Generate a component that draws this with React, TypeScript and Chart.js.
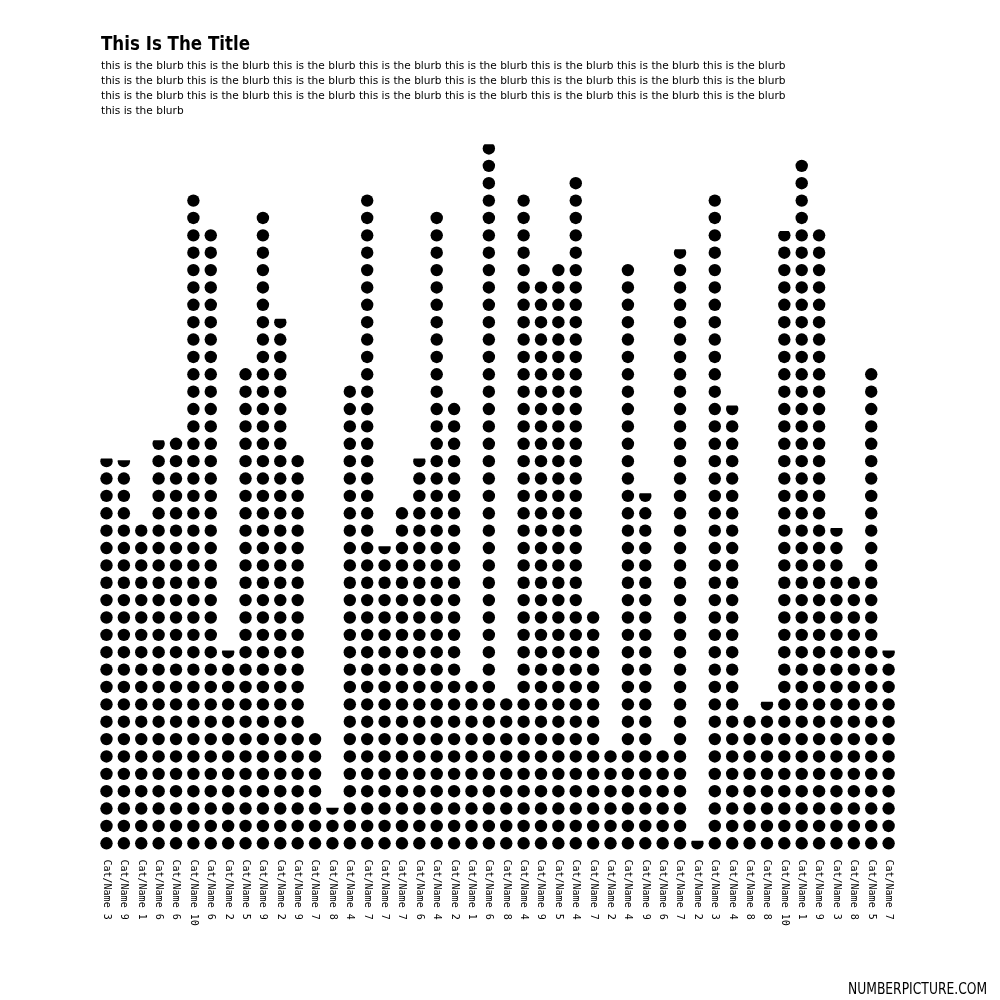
import React, { useEffect, useRef } from "react";
import { Chart, registerables } from "chart.js";

Chart.register(...registerables);

// ---- data ----
const categories: string[] = [
  "Cat/Name 3", "Cat/Name 9", "Cat/Name 1", "Cat/Name 6", "Cat/Name 6", "Cat/Name 10",
  "Cat/Name 6", "Cat/Name 2", "Cat/Name 5", "Cat/Name 9", "Cat/Name 2", "Cat/Name 9",
  "Cat/Name 7", "Cat/Name 8", "Cat/Name 4", "Cat/Name 7", "Cat/Name 7", "Cat/Name 7",
  "Cat/Name 6", "Cat/Name 4", "Cat/Name 2", "Cat/Name 1", "Cat/Name 6", "Cat/Name 8",
  "Cat/Name 4", "Cat/Name 9", "Cat/Name 5", "Cat/Name 4", "Cat/Name 7", "Cat/Name 2",
  "Cat/Name 4", "Cat/Name 9", "Cat/Name 6", "Cat/Name 7", "Cat/Name 2", "Cat/Name 3",
  "Cat/Name 4", "Cat/Name 8", "Cat/Name 8", "Cat/Name 10", "Cat/Name 1", "Cat/Name 9",
  "Cat/Name 3", "Cat/Name 8", "Cat/Name 5", "Cat/Name 7",
];

const values: number[] = [
  22.65, 22.55, 19, 23.7, 24, 38, 36, 11.6, 28, 37, 30.7, 23,
  7, 2.55, 27, 38, 17.6, 20, 22.65, 37, 26, 10, 40.75, 9,
  38, 32.85, 34, 39, 14, 6, 34, 20.65, 6, 34.7, 0.65, 38,
  25.7, 8, 8.65, 35.75, 40, 36, 18.65, 16, 28, 11.6,
];

const yMax = 41;

const titleText = "This Is The Title";
const blurbPhrase = "this is the blurb";
const blurbLines: string[] = [
  Array(8).fill(blurbPhrase).join(" "),
  Array(8).fill(blurbPhrase).join(" "),
  Array(8).fill(blurbPhrase).join(" "),
  blurbPhrase,
];
const footerText = "NUMBERPICTURE.COM";

// ---- plugin drawing the dot columns and rotated labels ----
const dotPlugin = {
  id: "dotColumns",
  afterDatasetsDraw(chart: any) {
    const { ctx } = chart;
    const x = chart.scales.x;
    const y = chart.scales.y;
    const data = chart.data.datasets[0].data as number[];
    const base = y.getPixelForValue(0);
    const step = Math.abs(base - y.getPixelForValue(1));
    const r = step * 0.357;
    ctx.save();
    ctx.fillStyle = "#000";
    data.forEach((v: number, i: number) => {
      const cx = x.getPixelForValue(i);
      const top = y.getPixelForValue(v);
      ctx.save();
      ctx.beginPath();
      ctx.rect(cx - step / 2, top, step, base - top);
      ctx.clip();
      for (let k = 0; k < Math.ceil(v); k++) {
        const cy = y.getPixelForValue(k + 0.5);
        ctx.beginPath();
        ctx.arc(cx, cy, r, 0, Math.PI * 2);
        ctx.fill();
      }
      ctx.restore();
    });
    ctx.font = '10px "DejaVu Sans Mono"';
    ctx.textAlign = "left";
    ctx.textBaseline = "middle";
    (chart.data.labels as string[]).forEach((lab: string, i: number) => {
      const cx = x.getPixelForValue(i);
      ctx.save();
      ctx.translate(cx, base + 7.5);
      ctx.rotate(Math.PI / 2);
      ctx.fillText(lab, 0, 0);
      ctx.restore();
    });
    ctx.restore();
  },
};

export default function App() {
  const canvasRef = useRef<HTMLCanvasElement | null>(null);

  useEffect(() => {
    if (!canvasRef.current) return;
    const chart = new Chart(canvasRef.current, {
      type: "bar",
      data: {
        labels: categories,
        datasets: [
          {
            data: values,
            backgroundColor: "rgba(0,0,0,0)",
            borderWidth: 0,
          },
        ],
      },
      options: {
        animation: false,
        responsive: false,
        maintainAspectRatio: false,
        devicePixelRatio: 1,
        layout: { padding: { left: 97.8, right: 102.7, top: 139.8, bottom: 148 } },
        plugins: {
          legend: { display: false },
          tooltip: { enabled: false },
          title: { display: false },
        },
        scales: {
          x: { display: false, offset: true, grid: { display: false } },
          y: { display: false, min: 0, max: yMax, grid: { display: false } },
        },
      },
      plugins: [dotPlugin],
    });
    return () => chart.destroy();
  }, []);

  return (
    <div style={{ position: "absolute", left: 0, top: 0, width: 1000, height: 1000, background: "#fff", overflow: "hidden" }}>
      <canvas
        ref={canvasRef}
        width={1000}
        height={1000}
        style={{ position: "absolute", left: 0, top: 0, width: 1000, height: 1000 }}
      />
      <div
        style={{
          position: "absolute",
          left: 101,
          top: 31.75,
          font: 'bold 19.5px "DejaVu Sans"',
          lineHeight: "24px",
          color: "#000",
          whiteSpace: "nowrap",
          transform: "scaleX(0.855)",
          transformOrigin: "left top",
        }}
      >
        {titleText}
      </div>
      <div
        style={{
          position: "absolute",
          left: 101,
          top: 58.3,
          font: '10.58px "DejaVu Sans"',
          lineHeight: "15px",
          color: "#000",
          whiteSpace: "nowrap",
        }}
      >
        {blurbLines.map((l, i) => (
          <div key={i}>{l}</div>
        ))}
      </div>
      <div
        style={{
          position: "absolute",
          left: 848,
          top: 979.3,
          font: '400 16.5px "DejaVu Sans"',
          lineHeight: "20px",
          color: "#000",
          whiteSpace: "nowrap",
          transform: "scaleX(0.747)",
          transformOrigin: "left top",
        }}
      >
        {footerText}
      </div>
    </div>
  );
}
